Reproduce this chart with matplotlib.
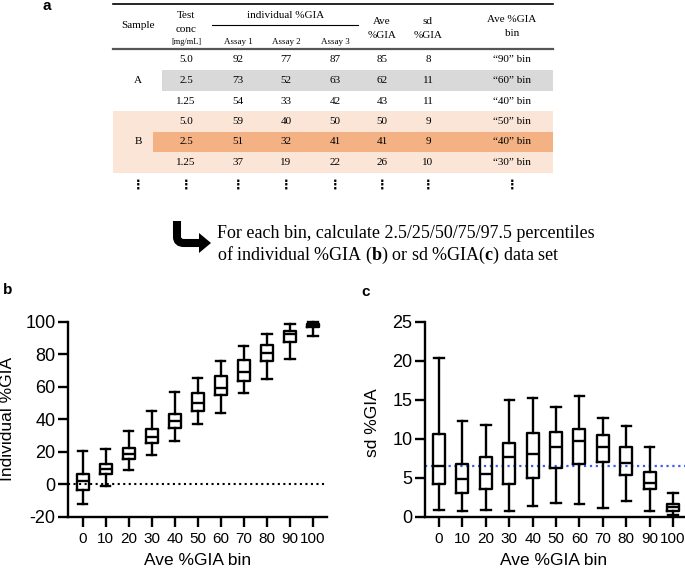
import numpy as np
import matplotlib
matplotlib.use('Agg')
import matplotlib.pyplot as plt
from matplotlib.patches import Rectangle, Polygon, PathPatch
from matplotlib.path import Path

plt.rcParams['font.family'] = ['Liberation Sans', 'DejaVu Sans']
plt.rcParams['axes.unicode_minus'] = False
plt.rcParams['mathtext.fontset'] = 'custom'
plt.rcParams['mathtext.rm'] = 'Liberation Serif'
plt.rcParams['mathtext.bf'] = 'Liberation Serif:bold'

# ---- table data (panel a) ----
samples = ['A', 'B']
concs = ['5.0', '2.5', '1.25', '5.0', '2.5', '1.25']
assay1 = [92, 73, 54, 59, 51, 37]
assay2 = [77, 52, 33, 40, 32, 19]
assay3 = [87, 63, 42, 50, 41, 22]
ave_gia = [85, 62, 43, 50, 41, 26]
sd_gia = [8, 11, 11, 9, 9, 10]
bin_labels = ['\u201c90\u201d bin', '\u201c60\u201d bin', '\u201c40\u201d bin',
              '\u201c50\u201d bin', '\u201c40\u201d bin', '\u201c30\u201d bin']

# ---- box plot data (panels b, c) ----
bins = [0, 10, 20, 30, 40, 50, 60, 70, 80, 90, 100]
b_lo = [-12.1, -1.2, 8.8, 17.8, 26.8, 37.0, 44.0, 56.0, 64.9, 77.0, 91.5]
b_q1 = [-3.7, 6.1, 15.4, 25.2, 34.5, 45.0, 54.6, 63.7, 75.6, 87.6, 96.5]
b_med = [2.0, 9.4, 18.8, 29.1, 39.0, 50.0, 59.5, 69.3, 80.5, 92.5, 97.5]
b_q3 = [6.3, 12.3, 22.5, 34.2, 43.1, 55.9, 66.6, 76.4, 85.6, 94.0, 98.8]
b_hi = [20.3, 21.9, 32.8, 45.3, 56.8, 65.1, 75.8, 85.2, 92.2, 98.4, 100.0]

c_lo = [0.9, 0.7, 0.8, 0.7, 1.4, 1.8, 1.6, 1.1, 2.0, 0.7, 0.2]
c_q1 = [4.2, 3.1, 3.5, 4.2, 5.0, 6.3, 6.8, 7.0, 5.4, 3.6, 0.7]
c_med = [6.5, 4.8, 5.5, 7.6, 8.0, 8.9, 9.7, 8.9, 6.9, 4.3, 1.2]
c_q3 = [10.6, 6.7, 7.7, 9.5, 10.7, 10.8, 11.3, 10.5, 9.0, 5.7, 1.6]
c_hi = [20.3, 12.3, 11.8, 14.9, 15.2, 14.1, 15.5, 12.7, 11.6, 8.9, 3.1]
sd_ref = 6.5

fig = plt.figure(figsize=(6.85, 5.68), dpi=100)

# overlay axes in pixel coordinates for the table
ax0 = fig.add_axes([0, 0, 1, 1])
ax0.set_xlim(0, 685)
ax0.set_ylim(568, 0)
ax0.axis('off')

serif = ['Liberation Serif', 'DejaVu Serif']
cols = [138, 186, 238, 286, 335, 382, 428, 512]
row_y = [60, 80.5, 101, 121.5, 142, 162.5]
tl, tr = 113, 553

# row shading
ax0.add_patch(Rectangle((162, 70), tr - 162, 20.5, color='#d9d9d9', lw=0))
ax0.add_patch(Rectangle((tl, 111), tr - tl, 62, color='#fbe5d6', lw=0))
ax0.add_patch(Rectangle((153, 131.5), tr - 153, 20.5, color='#f4b183', lw=0))

# rules
ax0.plot([tl, tr], [3.5, 3.5], color='black', lw=1.2)
ax0.plot([tl, tr], [48.5, 48.5], color='#555555', lw=1.6)
ax0.plot([212, 358], [25, 25], color='black', lw=0.8)

def cell(x, y, s, size=8):
    ax0.text(x, y, s, ha='center', va='center', fontsize=size, family=serif)

# header
cell(cols[0], 26, 'Sample')
cell(cols[1], 15, 'Test')
cell(cols[1], 29, 'conc')
cell(cols[1], 42, '[mg/mL]', 6)
cell(286, 15, 'individual %GIA')
cell(cols[2], 42, 'Assay 1', 6.5)
cell(cols[3], 42, 'Assay 2', 6.5)
cell(cols[4], 42, 'Assay 3', 6.5)
cell(cols[5], 21, 'Ave')
cell(cols[5], 35, '%GIA')
cell(cols[6], 21, 'sd')
cell(cols[6], 35, '%GIA')
cell(cols[7], 20, 'Ave %GIA')
cell(cols[7], 33, 'bin')

# body
cell(cols[0], row_y[1], samples[0], 8)
cell(cols[0], row_y[4], samples[1], 8)
for i, y in enumerate(row_y):
    vals = [concs[i], assay1[i], assay2[i], assay3[i], ave_gia[i], sd_gia[i], bin_labels[i]]
    for x, v in zip(cols[1:], vals):
        cell(x, y, str(v), 8)
for x in cols:
    ax0.text(x, 185, '\u22ee', ha='center', va='center', fontsize=9,
             family=['DejaVu Sans'], fontweight='bold')

# curved arrow
verts = [(177, 221), (177, 237), (177, 243), (184, 243), (201, 243)]
codes = [Path.MOVETO, Path.LINETO, Path.CURVE3, Path.CURVE3, Path.LINETO]
ax0.add_patch(PathPatch(Path(verts, codes), fill=False, lw=5.8, color='black',
                        capstyle='butt', joinstyle='miter'))
ax0.add_patch(Polygon([(199, 233), (211, 243), (199, 253)], closed=True, color='black', lw=0))

ax0.text(217, 233, 'For each bin, calculate 2.5/25/50/75/97.5 percentiles',
         ha='left', va='center', fontsize=13, family=serif)
ax0.text(217, 255, r'of individual %GIA ($\mathbf{b}$) or sd %GIA($\mathbf{c}$) data set',
         ha='left', va='center', fontsize=13, family=serif)

# panel letters
ax0.text(47, 6, 'a', ha='center', va='center', fontsize=11, fontweight='bold')
ax0.text(8, 290, 'b', ha='center', va='center', fontsize=11, fontweight='bold')
ax0.text(366, 292, 'c', ha='center', va='center', fontsize=11, fontweight='bold')


def make_stats(lo, q1, med, q3, hi):
    return [dict(whislo=a, q1=b, med=c, q3=d, whishi=e, fliers=[])
            for a, b, c, d, e in zip(lo, q1, med, q3, hi)]


def style_axis(ax):
    for s in ['top', 'right']:
        ax.spines[s].set_visible(False)
    for s in ['left', 'bottom']:
        ax.spines[s].set_linewidth(1.7)
    ax.tick_params(axis='both', width=1.7, length=7, color='black')
    ax.tick_params(axis='x', labelsize=11, pad=4)
    ax.tick_params(axis='y', labelsize=13, pad=2)
    ax.set_xticks(bins)
    ax.set_xticklabels([str(b) for b in bins])
    ax.patch.set_alpha(0)


lw = 1.7
box_kw = dict(showfliers=False, patch_artist=False,
              boxprops=dict(lw=lw, color='black'),
              whiskerprops=dict(lw=lw, color='black'),
              capprops=dict(lw=lw, color='black'),
              medianprops=dict(lw=lw, color='black'))

# panel b
axb = fig.add_axes([68 / 685, (568 - 516.7) / 568, 259 / 685, 195 / 568])
axb.axhline(0, color='black', lw=1.5, ls=':', zorder=1)
bp = axb.bxp(make_stats(b_lo, b_q1, b_med, b_q3, b_hi), positions=bins,
             widths=5.2, capwidths=4.0, **box_kw)
for k in bp:
    for art in bp[k]:
        art.set_clip_on(False)
axb.set_xlim(-6.4, 106.1)
axb.set_ylim(-20, 100)
axb.set_yticks([-20, 0, 20, 40, 60, 80, 100])
style_axis(axb)
axb.set_ylabel('Individual %GIA', fontsize=12.5)
axb.yaxis.set_label_coords(-0.205, 0.5)
axb.set_xlabel('Ave %GIA bin', fontsize=12.5)
axb.xaxis.set_label_coords(0.5, -0.185)

# panel c
axc = fig.add_axes([425 / 685, (568 - 516.7) / 568, 260 / 685, 195 / 568])
axc.axhline(sd_ref, color='#3a5cf5', lw=1.6, ls=':', zorder=1)
bp = axc.bxp(make_stats(c_lo, c_q1, c_med, c_q3, c_hi), positions=bins,
             widths=5.1, capwidths=4.0, **box_kw)
for k in bp:
    for art in bp[k]:
        art.set_clip_on(False)
axc.set_xlim(-6.0, 105.1)
axc.set_ylim(0, 25)
axc.set_yticks([0, 5, 10, 15, 20, 25])
style_axis(axc)
axc.set_ylabel('sd %GIA', fontsize=12.5)
axc.yaxis.set_label_coords(-0.172, 0.48)
axc.set_xlabel('Ave %GIA bin', fontsize=12.5)
axc.xaxis.set_label_coords(0.496, -0.185)

fig.savefig('out.png', dpi=100)
